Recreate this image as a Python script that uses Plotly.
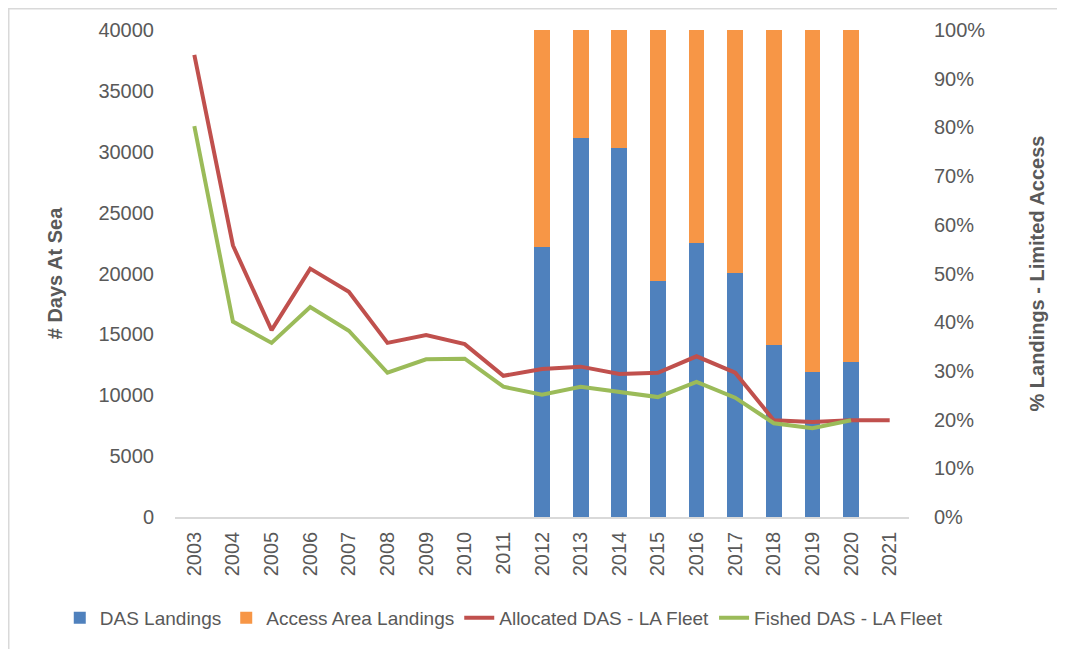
import plotly.graph_objects as go

years = [str(y) for y in range(2003, 2022)]
allocated_das = [37950, 22300, 15350, 20400, 18500, 14300, 14950, 14200, 11600, 12150,
                 12350, 11750, 11850, 13200, 11850, 7950, 7800, 7950, 7950]
fished_das = [32100, 16050, 14300, 17250, 15300, 11850, 12950, 13000, 10700, 10050,
              10700, 10300, 9850, 11100, 9800, 7700, 7300, 7950, None]
bar_years = ["2012", "2013", "2014", "2015", "2016", "2017", "2018", "2019", "2020"]
das_landings_pct = [55.4, 77.8, 75.8, 48.5, 56.3, 50.1, 35.3, 29.8, 31.8]
access_area_pct = [44.6, 22.2, 24.2, 51.5, 43.7, 49.9, 64.7, 70.2, 68.2]

FONT = "Liberation Sans"
GREY = "#595959"

W, H = 1057, 641
ML, MT, PW, PH = 167, 22, 734, 487

fig = go.Figure()
fig.add_trace(go.Bar(x=bar_years, y=das_landings_pct, name="DAS Landings",
                     marker=dict(color="#4F81BD", line=dict(width=0)), yaxis="y"))
fig.add_trace(go.Bar(x=bar_years, y=access_area_pct, name="Access Area Landings",
                     marker=dict(color="#F79646", line=dict(width=0)), yaxis="y"))
fig.add_trace(go.Scatter(x=years, y=allocated_das, name="Allocated DAS - LA Fleet",
                         mode="lines", line=dict(color="#C0504D", width=4), yaxis="y2"))
fig.add_trace(go.Scatter(x=years, y=fished_das, name="Fished DAS - LA Fleet",
                         mode="lines", line=dict(color="#9BBB59", width=4), yaxis="y2"))

fig.update_layout(
    width=W, height=H,
    margin=dict(l=ML, r=W - ML - PW, t=MT, b=H - MT - PH, pad=0),
    paper_bgcolor="white", plot_bgcolor="white",
    barmode="stack", bargap=0.59,
    font=dict(family=FONT, color=GREY, size=18),
    xaxis=dict(type="category", categoryorder="array", categoryarray=years,
               range=[-0.5, 18.5], automargin=False,
               tickangle=-90, showgrid=False, showline=True, linecolor="#D9D9D9",
               linewidth=1.5, ticks="", ticklabelstandoff=5,
               tickfont=dict(size=20, color=GREY)),
    yaxis=dict(side="right", range=[0, 100], dtick=10, ticksuffix="%",
               showgrid=False, zeroline=False, showline=False, ticks="",
               automargin=False, ticklabelstandoff=24,
               tickfont=dict(size=20, color=GREY),
               title=dict(text="<b>% Landings - Limited Access</b>",
                          font=dict(size=20, color=GREY), standoff=45)),
    yaxis2=dict(overlaying="y", side="left", range=[0, 40000], dtick=5000,
                tickformat="d", showgrid=False, zeroline=False, showline=False,
                ticks="", automargin=False, ticklabelstandoff=20,
                tickfont=dict(size=20, color=GREY),
                title=dict(text="<b># Days At Sea</b>",
                           font=dict(size=20, color=GREY), standoff=30)),
    legend=dict(orientation="h", xref="paper", yref="paper",
                x=-0.157, xanchor="left", y=(PH + MT - 610) / PH, yanchor="middle",
                font=dict(size=19, color=GREY), itemwidth=30, traceorder="normal"),
    showlegend=True,
)

fig.add_shape(type="rect", xref="paper", yref="paper",
              x0=(0.75 - ML) / PW, x1=(W + 20 - ML) / PW,
              y0=(PH + MT - H - 20) / PH, y1=(PH + MT - 0.75) / PH,
              line=dict(color="#D9D9D9", width=1.5), fillcolor="rgba(0,0,0,0)", layer="below")

fig.write_html("out.html")
